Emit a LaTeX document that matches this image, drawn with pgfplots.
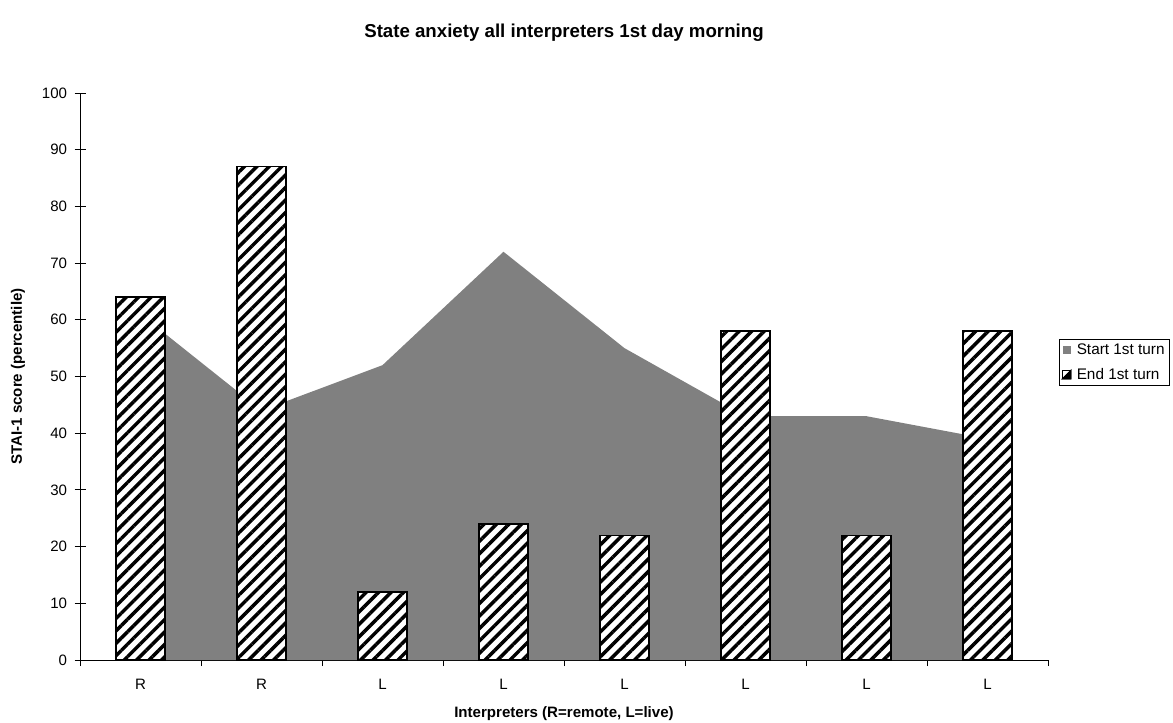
\documentclass[border=0pt]{standalone}
\usepackage{pgfplots}
\pgfplotsset{compat=1.18}
\usepackage{fontspec}
\setmainfont{Liberation Sans}
\usetikzlibrary{patterns.meta}
\definecolor{areagray}{RGB}{128,128,128}

\begin{document}
\begin{tikzpicture}
\path[use as bounding box] (-60pt,-46.5pt) rectangle (819.75pt,495pt);
\begin{axis}[
    scale only axis,
    width=726pt, height=425.25pt,
    xmin=0.5, xmax=8.5, ymin=0, ymax=100,
    enlargelimits=false,
    axis lines=left,
    axis line style={-, line width=0.7pt},
    font=\fontsize{11.3pt}{13pt}\selectfont,
    /pgf/number format/assume math mode=true,
    tick align=center,
    major tick length=8.25pt,
    minor tick length=4.5pt,
    ytick={0,10,...,100},
    xtick={1,...,8},
    xticklabels={R,R,L,L,L,L,L,L},
    minor xtick={0.5,1.5,...,8.5},
    major x tick style={draw=none},
    minor x tick style={yshift=-2.25pt},
    tick style={black, line width=0.7pt},
    xticklabel style={yshift=-7pt},
    yticklabel style={xshift=-2pt},
    title={\bfseries State anxiety all interpreters 1st day morning},
    title style={font=\fontsize{14pt}{16pt}\selectfont, at={(axis description cs:0.5,1.093)}, anchor=center},
    xlabel={\bfseries Interpreters (R=remote, L=live)},
    xlabel style={at={(axis description cs:0.5,-0.094)}, anchor=center},
    ylabel={\bfseries STAI-1 score (percentile)},
    ylabel style={at={(axis description cs:-0.064,0.5)}, anchor=center, rotate=0},
    legend style={at={(axis description cs:1.0114,0.566)}, anchor=north west,
        draw=black, line width=0.6pt, font=\fontsize{11.5pt}{13pt}\selectfont,
        inner xsep=2pt, inner ysep=1pt, row sep=5pt, column sep=2pt},
    legend cell align=left,
]
\addplot[fill=areagray, draw=none,
    legend image code/.code={\fill[areagray] (0pt,-3pt) rectangle (6pt,3pt);}]
    coordinates {(1,61) (2,44) (3,52) (4,72) (5,55) (6,43) (7,43) (8,39)} \closedcycle;
\addlegendentry{Start 1st turn}
\addplot[ybar, bar width=36.75pt, draw=black, line width=1pt,
    preaction={fill=white},
    pattern={Lines[angle=45, distance=6.6pt, line width=2.6pt]},
    legend image code/.code={
        \draw[black, line width=0.6pt, fill=white] (0pt,-3pt) rectangle (6pt,3pt);
        \fill[black] (6pt,-3pt) -- (6pt,3pt) -- (0pt,-3pt) -- cycle;}]
    coordinates {(1,64) (2,87) (3,12) (4,24) (5,22) (6,58) (7,22) (8,58)};
\addlegendentry{End 1st turn}
\end{axis}
\end{tikzpicture}
\end{document}
